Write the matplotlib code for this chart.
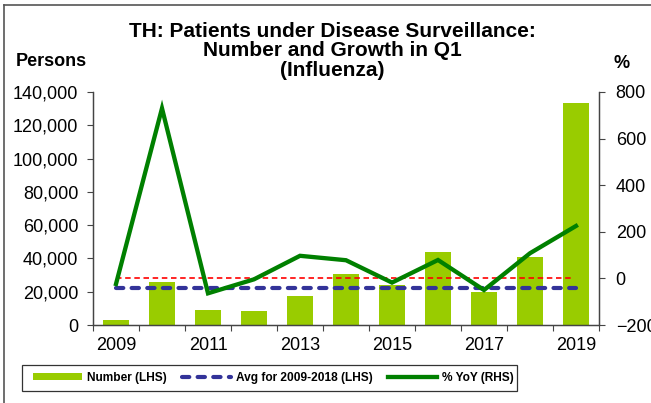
import matplotlib
matplotlib.use("Agg")
import matplotlib.pyplot as plt
from matplotlib.ticker import FuncFormatter, FixedLocator
from matplotlib.lines import Line2D
from matplotlib.patches import Patch, Rectangle
import numpy as np

plt.rcParams['font.family'] = ['Liberation Sans', 'DejaVu Sans']

years = [2009, 2010, 2011, 2012, 2013, 2014, 2015, 2016, 2017, 2018, 2019]
numbers = [3000, 26000, 9000, 8600, 17300, 30800, 24000, 43700, 20000, 41000, 133200]
yoy = [-24, 730, -64, -4, 97, 78, -18, 79, -50, 108, 225]
avg_2009_2018 = 22300
tick_years = ["2009", "2011", "2013", "2015", "2017", "2019"]
title_lines = ["TH: Patients under Disease Surveillance:", "Number and Growth in Q1", "(Influenza)"]

W, H = 651, 403
fig = plt.figure(figsize=(W/100, H/100), dpi=100)
ax = fig.add_axes([93/W, 1-325/H, (599-93)/W, (325-92)/H])
ax2 = ax.twinx()

def fx(px):
    return px / W

def fy(py):
    return 1 - py / H

x = np.arange(len(years))
ax.bar(x, numbers, width=0.58, color='#99CC00', zorder=2)
ax.plot([x[0], x[9] + 1], [avg_2009_2018]*2, color='#333399', lw=3.0,
        dashes=(1.75, 2.0), dash_capstyle='round', zorder=3)

ax2.plot([x[0], x[-1] - 0.1], [0, 0], color='#FF0000', lw=1.2, dashes=(3.3, 2.2), zorder=2)
ax2.plot(x, yoy, color='#008000', lw=3.1, zorder=3, solid_joinstyle='miter')

ax.set_xlim(-0.5, len(years) - 0.5)
ax.set_ylim(0, 140000)
ax2.set_ylim(-200, 800)
ax.set_yticks(np.arange(0, 140001, 20000))
ax.yaxis.set_major_formatter(FuncFormatter(lambda v, p: f"{int(v):,}"))
ax2.set_yticks(np.arange(-200, 801, 200))

ax.xaxis.set_major_locator(FixedLocator(np.arange(-0.5, len(years), 1.0)))
ax.xaxis.set_major_formatter(FuncFormatter(lambda v, p: ""))
ax.xaxis.set_minor_locator(FixedLocator(x[::2]))
ax.set_xticklabels(tick_years, minor=True)
ax.tick_params(axis='x', which='minor', length=0, labelsize=13, pad=9)
ax.tick_params(axis='x', which='major', length=4.5, direction='out', width=0.8, color='#444444')
ax.tick_params(axis='y', length=4.5, direction='out', labelsize=13, width=0.8, pad=6, color='#444444')
ax2.tick_params(axis='y', length=4, direction='out', labelsize=13, width=0.8, pad=8, color='#444444')

for a in (ax, ax2):
    a.spines['top'].set_visible(False)
    for s in ('left', 'right', 'bottom'):
        a.spines[s].set_color('#444444')
        a.spines[s].set_linewidth(0.9)

for line, by in zip(title_lines, [37, 56.5, 75.5]):
    fig.text(fx(332), fy(by), line, ha='center', va='baseline', fontsize=15, fontweight='bold')
fig.text(fx(51), fy(61), "Persons", ha='center', va='center', fontsize=13, fontweight='bold')
fig.text(fx(622), fy(64), "%", ha='center', va='center', fontsize=13, fontweight='bold')

handles = [Patch(facecolor='#99CC00', edgecolor='none'),
           Line2D([0], [0], color='#333399', lw=3.0, dashes=(1.75, 2.0), dash_capstyle='round'),
           Line2D([0], [0], color='#008000', lw=3.1)]
labels = ["Number (LHS)", "Avg for 2009-2018 (LHS)", "% YoY (RHS)"]
leg = fig.legend(handles, labels, ncol=3, loc='center',
                 bbox_to_anchor=(fx((22 + 517) / 2 + 4), fy(378)),
                 prop={'weight': 'bold', 'size': 8.6}, frameon=False,
                 handlelength=4.1, handleheight=0.55,
                 columnspacing=1.25, handletextpad=0.42, borderpad=0.2)

fig.add_artist(Rectangle((fx(22), fy(391)), fx(517) - fx(22), fy(365) - fy(391),
                         transform=fig.transFigure, fill=False, edgecolor='#333333', lw=0.9))

# outer frame lines
fig.add_artist(Line2D([fx(4), fx(4)], [0, fy(5)], color='#555555', lw=1.2, transform=fig.transFigure))
fig.add_artist(Line2D([fx(4), 1], [fy(5), fy(5)], color='#555555', lw=1.2, transform=fig.transFigure))

fig.savefig("out.png", dpi=100)
